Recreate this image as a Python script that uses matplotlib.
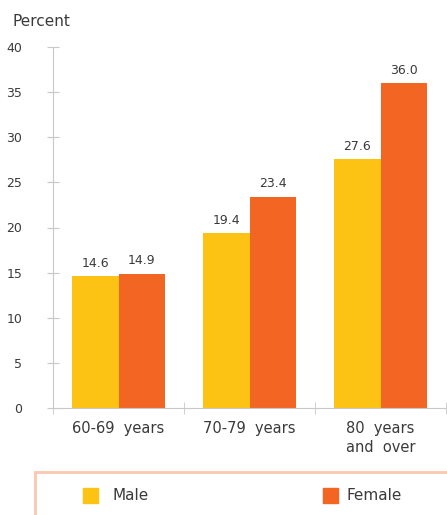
import numpy as np
import matplotlib
matplotlib.use('Agg')
import matplotlib.pyplot as plt
from matplotlib.patches import Rectangle

# data
categories = ['60-69  years', '70-79  years', '80  years\nand  over']
male = [14.6, 19.4, 27.6]
female = [14.9, 23.4, 36.0]
series_names = ['Male', 'Female']
yticks = [0, 5, 10, 15, 20, 25, 30, 35, 40]

c_male = '#fdc314'
c_female = '#f26522'
c_axis = '#c8c8c8'
c_text = '#3a3a3a'

plt.rcParams['font.family'] = ['DejaVu Sans']

fig = plt.figure(figsize=(4.47, 5.15), dpi=100)
ax = fig.add_axes([53/447, 107/515, 393/447, 361/515])

x = np.arange(len(categories))
w = 0.355
ax.bar(x - w/2, male, w, color=c_male)
ax.bar(x + w/2, female, w, color=c_female)

for xi, v in zip(x - w/2, male):
    ax.text(xi, v + 0.7, '%.1f' % v, ha='center', va='bottom', fontsize=9, color=c_text)
for xi, v in zip(x + w/2, female):
    ax.text(xi, v + 0.7, '%.1f' % v, ha='center', va='bottom', fontsize=9, color=c_text)

ax.set_xlim(-0.5, 2.5)
ax.set_ylim(0, 40)
ax.set_yticks(yticks)
ax.set_yticklabels([str(t) for t in yticks], fontsize=9, color=c_text)
ax.tick_params(axis='y', direction='inout', length=8, color=c_axis, pad=18)

ax.set_xticks(x)
ax.set_xticklabels(categories, fontsize=10.5, color=c_text, linespacing=1.4)
ax.tick_params(axis='x', length=0, pad=9)
ax.set_xticks([-0.5, 0.5, 1.5, 2.5], minor=True)
ax.tick_params(axis='x', which='minor', direction='inout', length=8, color=c_axis)

for s in ['top', 'right']:
    ax.spines[s].set_visible(False)
ax.spines['left'].set_color(c_axis)
ax.spines['bottom'].set_color(c_axis)
ax.spines['left'].set_bounds(0, 40)

fig.text(12/447, 1 - 21/515, 'Percent', fontsize=11, color=c_text, va='center')

# legend box
fig.patches.append(Rectangle((35/447, -0.05), 1, (515 - 472)/515 + 0.05,
                             transform=fig.transFigure, fill=False,
                             edgecolor='#f9c8ae', linewidth=2, clip_on=False))
leg_y = 1 - 496/515
for (lx, tx), name, col in zip([(83, 112), (323, 347)], series_names, [c_male, c_female]):
    fig.patches.append(Rectangle((lx/447, leg_y - 7/515), 15/447, 15/515,
                                 transform=fig.transFigure, color=col))
    fig.text(tx/447, leg_y, name, fontsize=11, color=c_text, va='center')

plt.savefig('out.png', dpi=100)
